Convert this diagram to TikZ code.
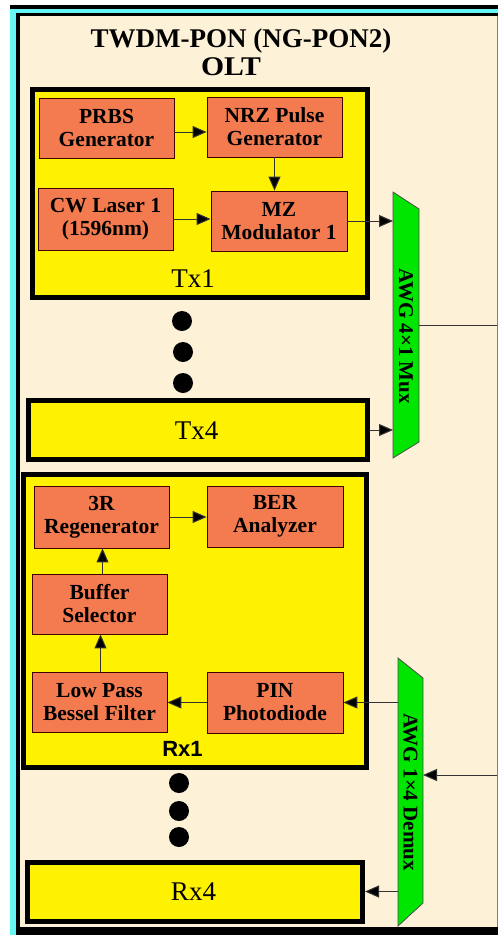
\documentclass[tikz,border=0pt]{standalone}
\usepackage{fontspec}
\setmainfont{Liberation Serif}
\newfontfamily\rxfont{Liberation Sans}
\usetikzlibrary{arrows.meta}
\definecolor{bgbeige}{HTML}{FDF1D7}
\definecolor{boxorange}{HTML}{F47B4F}
\definecolor{awggreen}{HTML}{00E600}
\definecolor{framecyan}{HTML}{66F5F5}
\definecolor{linegray}{HTML}{333333}
\begin{document}
\begin{tikzpicture}[x=1pt,y=-1pt,
  blk/.style={draw=black!75!red, line width=0.8pt, fill=boxorange, align=center, inner sep=0pt,
    font=\bfseries\fontsize{21.5}{23}\selectfont},
  grp/.style={draw=black, line width=5pt, fill=yellow, inner sep=0pt},
  lbl/.style={font=\fontsize{27}{30}\selectfont, inner sep=0pt},
  dotmark/.style={circle, fill=black, minimum size=20pt, inner sep=0pt},
  arr/.style={draw=linegray, line width=1pt, -{Triangle[length=14pt,width=12pt,fill=black]}},
  conn/.style={draw=linegray, line width=1pt},
  awg/.style={fill=awggreen, draw=gray!60!black, line width=0.8pt},
  anchorbox/.style={inner sep=0pt, outer sep=0pt},
  awglbl/.style={rotate=-90, font=\bfseries\fontsize{21}{24}\selectfont, inner sep=0pt},
]
\useasboundingbox (0,0) rectangle (498,935);
% frame
\fill[white] (0,0) rectangle (498,935);
\fill[black] (10,5) rectangle (498,9);
\fill[framecyan] (10,9) rectangle (498,13);
\fill[framecyan] (10,9) rectangle (16,935);
\fill[black] (16,13) rectangle (498,16);
\fill[black] (16,13) rectangle (20,935);
\fill[black] (16,927) rectangle (498,935);
\fill[bgbeige] (20,16) rectangle (497,927);
\draw[gray, line width=1pt] (497.5,16) -- (497.5,927);
\coordinate (muxout) at (497,325);
\coordinate (dmxin) at (497,775);

% title
\node[lbl, font=\bfseries\fontsize{27}{30}\selectfont, anchor=base] (title) at (241,47) {TWDM-PON (NG-PON2)};
\node[lbl, font=\bfseries\fontsize{27}{30}\selectfont, anchor=base] (olt) at (231,75) {\scalebox{1.1}[1]{OLT}};

% Tx1 group
\node[grp, minimum width=334.5pt, minimum height=207.5pt] (tx1) at (199.75,193.25) {};
\node[blk, minimum width=135pt, minimum height=60pt] (prbs) at (106.5,128) {PRBS\\Generator};
\node[blk, minimum width=135pt, minimum height=60pt] (nrz) at (274.5,127) {NRZ Pulse\\Generator};
\node[blk, minimum width=135pt, minimum height=62pt] (cw) at (105.5,219) {CW Laser 1\\(1596nm)};
\node[blk, minimum width=136pt, minimum height=60pt] (mz) at (279,221) {MZ\\Modulator 1};
\node[lbl] (tx1lbl) at (193,279) {Tx1};

% dots Tx
\node[dotmark] (td1) at (182,321) {};
\node[dotmark] (td2) at (183,352) {};
\node[dotmark] (td3) at (183,383) {};

% Tx4
\node[grp, minimum width=338.5pt, minimum height=59pt] (tx4) at (197.75,430) {};
\node[lbl] (tx4lbl) at (196.5,431) {Tx4};

% Rx1 group
\node[grp, minimum width=342.5pt, minimum height=293pt] (rx1) at (194.75,621) {};
\node[blk, minimum width=135pt, minimum height=62pt] (regen) at (101.5,517) {3R\\Regenerator};
\node[blk, minimum width=136pt, minimum height=61pt] (ber) at (275,516.5) {BER\\Analyzer};
\node[blk, minimum width=135pt, minimum height=60pt] (buf) at (99.5,604) {Buffer\\Selector};
\node[blk, minimum width=135pt, minimum height=60pt] (lpf) at (99.5,702) {Low Pass\\Bessel Filter};
\node[blk, minimum width=136pt, minimum height=61pt] (pin) at (275,702.5) {PIN\\Photodiode};
\node[inner sep=0pt, font=\rxfont\bfseries\fontsize{22}{24}\selectfont] (rx1lbl) at (182.5,749) {Rx1};

% dots Rx
\node[dotmark] (rd1) at (179,783) {};
\node[dotmark] (rd2) at (179,811) {};
\node[dotmark] (rd3) at (179,837) {};

% Rx4
\node[grp, minimum width=335pt, minimum height=59pt] (rx4) at (195,891.5) {};
\node[lbl] (rx4lbl) at (193.5,892) {Rx4};

% AWG mux
\path[awg] (393,192) -- (419,209) -- (419,442) -- (393,458) -- cycle;
\node[anchorbox, minimum width=26pt, minimum height=266pt] (mux) at (406,325) {};
\node[awglbl] (muxlbl) at (406,336) {AWG 4×1 Mux};

% AWG demux
\path[awg] (398,658) -- (423,678) -- (423,903) -- (398,926) -- cycle;
\node[anchorbox, minimum width=25pt, minimum height=268pt] (demux) at (410.5,792) {};
\node[awglbl] (demuxlbl) at (410.5,792) {AWG 1×4 Demux};

% Tx connectors
\draw[arr] ([yshift=-4pt]prbs.east) -- ([yshift=-4pt]prbs.east -| nrz.west);
\draw[arr] (nrz.south) -- (nrz.south |- mz.north);
\draw[arr] (cw.east) -- (cw.east -| mz.west);
\draw[arr] (mz.east) -- (mz.east -| mux.west);
\draw[arr] (tx4.east) -- (tx4.east -| mux.west);
\draw[conn] (mux.east) -- (muxout);

% Rx connectors
\draw[arr] (regen.east) -- (regen.east -| ber.west);
\draw[arr] ([xshift=3pt]buf.north) -- ([xshift=3pt]buf.north |- regen.south);
\draw[arr] ([xshift=1pt]lpf.north) -- ([xshift=1pt]lpf.north |- buf.south);
\draw[arr] (pin.west) -- (pin.west -| lpf.east);
\draw[arr] (demux.west |- pin.east) -- (pin.east);
\draw[arr] (dmxin) -- (dmxin -| demux.east);
\draw[arr] (demux.west |- rx4.east) -- (rx4.east);
\end{tikzpicture}
\end{document}
